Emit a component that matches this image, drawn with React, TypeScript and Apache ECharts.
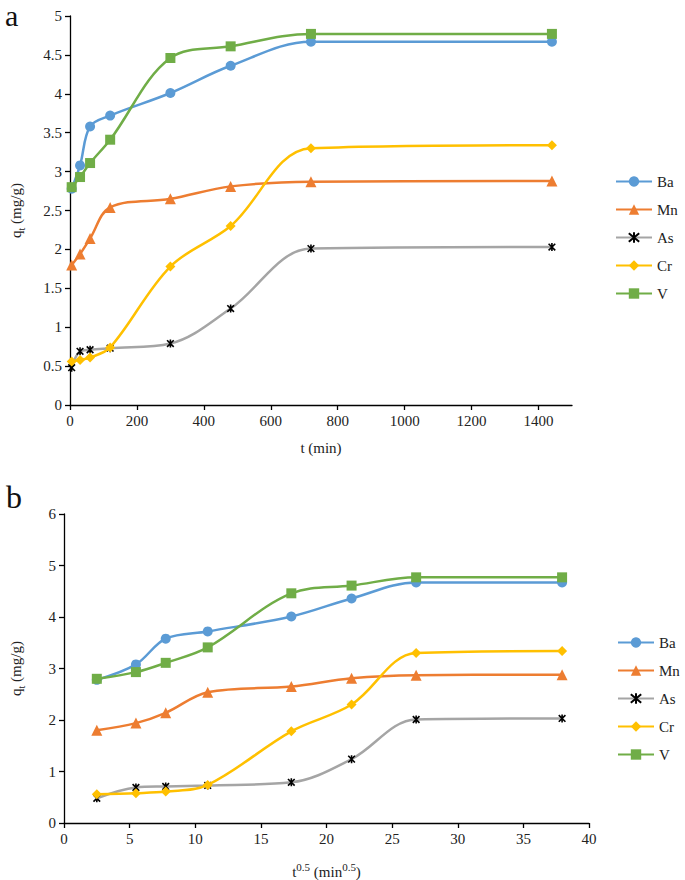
import React, { useEffect, useRef } from "react";
import * as echarts from "echarts";

const elements = ["Ba", "Mn", "As", "Cr", "V"];
const times = [5, 30, 60, 120, 300, 480, 720, 1440];
const sqrtTimes = [2.5, 5.48, 7.75, 10.95, 17.32, 21.91, 26.83, 37.95];
const ba = [2.78, 3.08, 3.58, 3.72, 4.01, 4.36, 4.67, 4.67];
const mn = [1.8, 1.94, 2.14, 2.54, 2.65, 2.81, 2.87, 2.88];
const as = [0.48, 0.69, 0.71, 0.73, 0.79, 1.24, 2.01, 2.03];
const cr = [0.56, 0.58, 0.61, 0.74, 1.78, 2.3, 3.3, 3.34];
const v = [2.8, 2.93, 3.11, 3.41, 4.46, 4.61, 4.77, 4.77];
const xTicksA = [0, 200, 400, 600, 800, 1000, 1200, 1400];

const values = [ba, mn, as, cr, v];
const colors = ["#5B9BD5", "#ED7D31", "#A5A5A5", "#FFC000", "#70AD47"];
const symbols = [
  "circle",
  "triangle",
  "path://M0,0L10,10M10,0L0,10M5,-1L5,11",
  "diamond",
  "rect",
];
const symbolSizes = [10, 11, 8, 10, 10];

const FONT = "'Liberation Serif', 'Times New Roman', serif";

export default function App() {
  const ref = useRef<HTMLDivElement>(null);
  useEffect(() => {
    document.body.style.margin = "0";
    const chart = echarts.init(ref.current!, null, { renderer: "svg" });

    const mkSeries = (gi: number, xs: number[]) =>
      elements.map((name, i) => ({
        name,
        type: "line",
        xAxisIndex: gi,
        yAxisIndex: gi,
        smooth: 0.35,
        symbol: symbols[i],
        symbolSize: symbolSizes[i],
        symbolKeepAspect: true,
        showAllSymbol: true,
        data: xs.map((x, k) => [x, values[i][k]]),
        lineStyle: { color: colors[i], width: 2.5 },
        itemStyle:
          i === 2
            ? { color: "#000", borderColor: "#000", borderWidth: 1.6 }
            : { color: colors[i] },
        z: 2 + i,
      }));

    const axisCommon = {
      axisLine: { show: true, lineStyle: { color: "#000", width: 1.3 } },
      axisTick: { show: true, length: 5, lineStyle: { color: "#000", width: 1.3 } },
      axisLabel: {
        color: "#222",
        fontFamily: FONT,
        fontSize: 15,
        formatter: (val: number) => String(val),
      },
      splitLine: { show: false },
      nameTextStyle: { color: "#222", fontFamily: FONT, fontSize: 15 },
    };

    const legendCommon = {
      orient: "vertical",
      itemWidth: 36,
      itemHeight: 13,
      itemGap: 13,
      padding: 0,
      textStyle: { fontFamily: FONT, fontSize: 15, color: "#222" },
      data: elements,
    };

    const yName = {
      ...axisCommon.nameTextStyle,
      rich: {
        a: { fontFamily: FONT, fontSize: 15, color: "#222", verticalAlign: "top", lineHeight: 18 },
        s: { fontFamily: FONT, fontSize: 10, color: "#222", verticalAlign: "bottom", lineHeight: 18 },
      },
    };

    chart.setOption({
      animation: false,
      backgroundColor: "#fff",
      grid: [
        { left: 58, top: 16, width: 514, height: 389 },
        { left: 55, top: 514, width: 534, height: 312 },
      ],
      xAxis: [
        {
          ...axisCommon,
          type: "value",
          gridIndex: 0,
          min: 0,
          max: 1500,
          interval: 200,
          axisTick: { ...axisCommon.axisTick, customValues: xTicksA },
          axisLabel: { ...axisCommon.axisLabel, customValues: xTicksA, margin: 8 },
          name: "t (min)",
          nameLocation: "middle",
          nameGap: 35,
        },
        {
          ...axisCommon,
          type: "value",
          gridIndex: 1,
          min: 0,
          max: 40,
          interval: 5,
          axisLabel: { ...axisCommon.axisLabel, margin: 8 },
          name: "{a|t}{s|0.5}{a| (min}{s|0.5}{a|)}",
          nameLocation: "middle",
          nameGap: 38,
          nameTextStyle: {
            ...axisCommon.nameTextStyle,
            rich: {
              a: { fontFamily: FONT, fontSize: 15, color: "#222", verticalAlign: "bottom", lineHeight: 18 },
              s: { fontFamily: FONT, fontSize: 11, color: "#222", verticalAlign: "top", lineHeight: 18 },
            },
          },
        },
      ],
      yAxis: [
        {
          ...axisCommon,
          type: "value",
          gridIndex: 0,
          min: 0,
          max: 5,
          interval: 0.5,
          name: "{a|q}{s|t}{a| (mg/g)}",
          nameLocation: "middle",
          nameGap: 44,
          nameRotate: 90,
          nameTextStyle: yName,
        },
        {
          ...axisCommon,
          type: "value",
          gridIndex: 1,
          min: 0,
          max: 6,
          interval: 1,
          name: "{a|q}{s|t}{a| (mg/g)}",
          nameLocation: "middle",
          nameGap: 38,
          nameRotate: 90,
          nameTextStyle: yName,
        },
      ],
      legend: [
        { ...legendCommon, left: 615, top: 174 },
        { ...legendCommon, left: 617, top: 635 },
      ],
      graphic: [
        { type: "text", left: 5, top: 0, style: { text: "a", fontFamily: FONT, fontSize: 30, lineHeight: 22, fill: "#111" } },
        { type: "text", left: 6, top: 481, style: { text: "b", fontFamily: FONT, fontSize: 32, lineHeight: 28, fill: "#111" } },
      ],
      series: [...mkSeries(0, times), ...mkSeries(1, sqrtTimes)],
    });
    return () => chart.dispose();
  }, []);
  return <div ref={ref} style={{ width: 685, height: 880 }} />;
}
